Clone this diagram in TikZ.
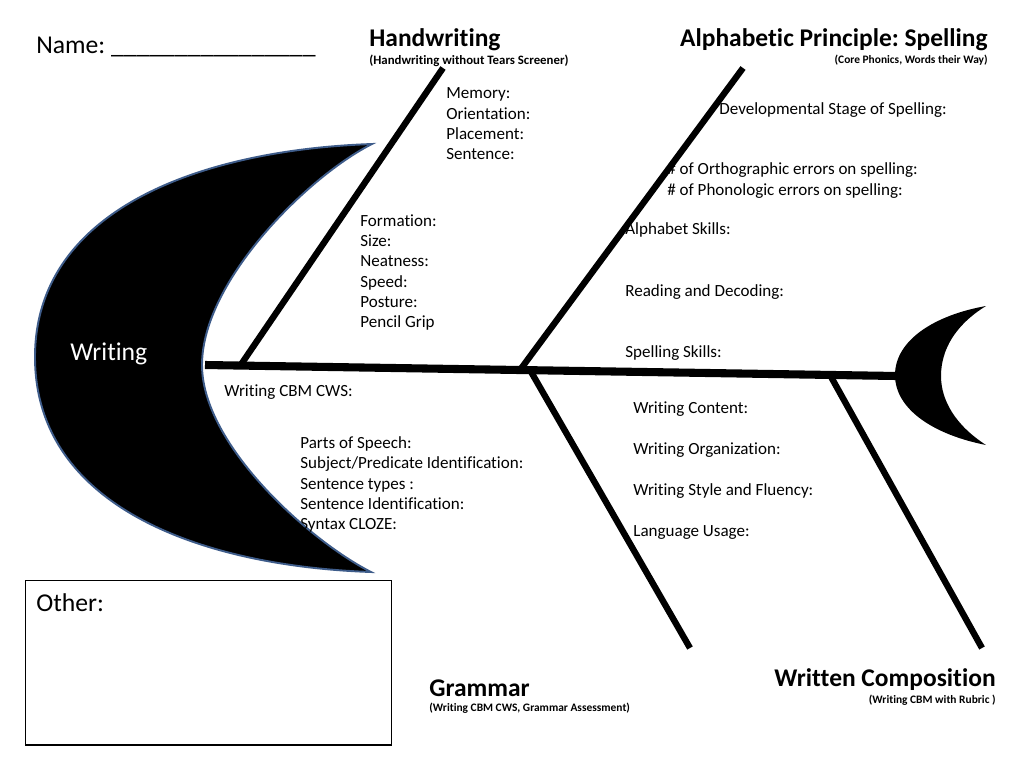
\documentclass[tikz,border=0pt]{standalone}
\usepackage{fontspec}
\setmainfont{Carlito}[Ligatures=NoCommon]
\usetikzlibrary{positioning}
\definecolor{rimblue}{RGB}{62,92,138}
\frenchspacing

\begin{document}
\begin{tikzpicture}[x=0.02cm, y=-0.02cm,
    item/.style={anchor=west, inner sep=0pt, align=left, font=\fontsize{9.7}{11.6}\selectfont},
    head/.style={inner sep=0pt, font=\fontsize{14.5}{17}\selectfont\bfseries},
    sub/.style={inner sep=0pt, font=\fontsize{6.5}{7.5}\selectfont\bfseries},
    big/.style={anchor=west, inner sep=0pt, font=\fontsize{14.6}{17}\selectfont},
    spine/.style={line width=4.6pt},
    bone/.style={line width=3.6pt}
  ]
    \useasboundingbox (0,0) rectangle (1024,768);
    % head and tail of the fish
    \draw[rimblue, line width=1.1pt, fill=black] (372,144) .. controls (200,150) and (35,210) .. (35,357)
      .. controls (35,506) and (200,566) .. (371,572)
      .. controls (310,541) and (202,445) .. (202,365)
      .. controls (202,280) and (310,175) .. (372,144) -- cycle;
    \fill (986,306) .. controls (935,315) and (895,340) .. (895,375)
      .. controls (895,410) and (935,435) .. (986,445)
      .. controls (955,425) and (941,400) .. (941,376)
      .. controls (941,350) and (955,325) .. (986,306) -- cycle;
    \node[big, text=white] (writing) at (70,354) {Writing};
    % spine and bones
    \coordinate (tail) at (205,365);
    \coordinate (mouth) at (897,376);
    \coordinate (hwfoot) at (240,366);
    \coordinate (hwtop) at (443,68);
    \coordinate (spfoot) at (520,370);
    \coordinate (sptop) at (743,68);
    \coordinate (grfoot) at (530,370);
    \coordinate (grend) at (690,648);
    \coordinate (wcfoot) at (830,375);
    \coordinate (wcend) at (982,648);
    \draw[spine] (tail) -- (mouth);
    \draw[bone] (hwfoot) -- (hwtop);
    \draw[bone] (spfoot) -- (sptop);
    \draw[bone] (grfoot) -- (grend);
    \draw[bone] (wcfoot) -- (wcend);
    % headings
    \node[big] (name) at (36,47) {Name: \_\_\_\_\_\_\_\_\_\_\_\_\_\_\_\_};
    \node[head, anchor=west] (hwhead) at (369,40) {Handwriting};
    \node[sub, anchor=west, font=\fontsize{7.3}{8.5}\selectfont\bfseries] (hwsub) at (369,61) {(Handwriting without Tears Screener)};
    \node[head, anchor=east] (sphead) at (988,40) {Alphabetic Principle: Spelling};
    \node[sub, anchor=east] (spsub) at (988,60) {(Core Phonics, Words their Way)};
    \node[head, anchor=west] (grhead) at (429,688) {Grammar};
    \node[sub, anchor=west] (grsub) at (429,708) {(Writing CBM CWS, Grammar Assessment)};
    \node[head, anchor=east] (wchead) at (996,680) {Written Composition};
    \node[sub, anchor=east] (wcsub) at (996,700) {(Writing CBM with Rubric )};
    % handwriting items
    \node[item] (hwtests) at (446,124) {Memory:\\Orientation:\\Placement:\\Sentence:};
    \node[item] (hwform) at (360,272.5) {Formation:\\Size:\\Neatness:\\Speed:\\Posture:\\Pencil Grip};
    % spelling items
    \node[item] (devstage) at (719,110) {Developmental Stage of Spelling:};
    \node[item] (errors) at (667,180.5) {\# of Orthographic errors on spelling:\\\# of Phonologic errors on spelling:};
    \node[item] (alpha) at (625,230) {Alphabet Skills:};
    \node[item] (decoding) at (625,292) {Reading and Decoding:};
    \node[item] (spskills) at (625,353) {Spelling Skills:};
    % grammar items
    \node[item] (cws) at (224,392) {Writing CBM CWS:};
    \node[item] (grtests) at (300,484.5) {Parts of Speech:\\Subject/Predicate Identification:\\Sentence types :\\Sentence Identification:\\Syntax CLOZE:};
    % composition items
    \node[item] (content) at (633,409) {Writing Content:};
    \node[item] (organ) at (633,450) {Writing Organization:};
    \node[item] (style) at (633,491) {Writing Style and Fluency:};
    \node[item] (usage) at (633,532) {Language Usage:};
    % other box
    \node[draw, line width=0.6pt, minimum width=7.34cm, minimum height=3.3cm, inner sep=0pt] (otherbox) at (208.5,662.5) {};
    \node[big] (other) at (36,603) {Other:};
  \end{tikzpicture}
\end{document}
